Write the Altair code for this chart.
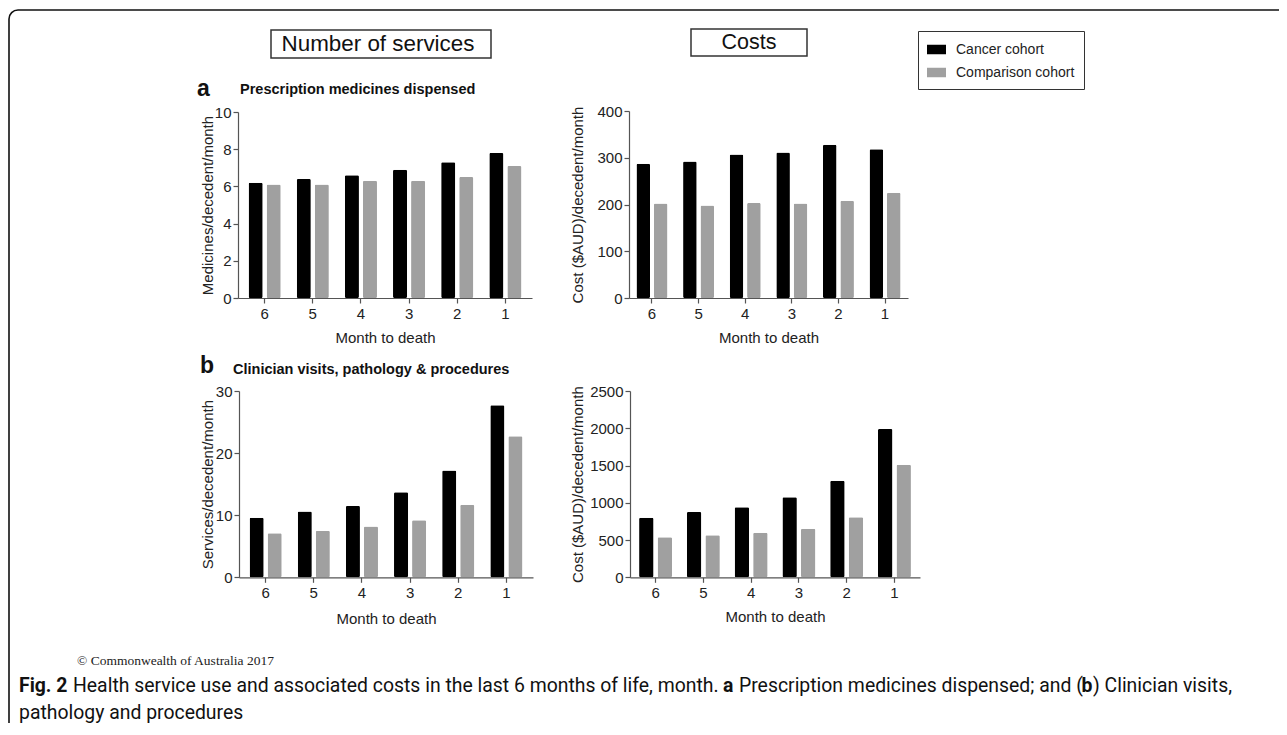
import altair as alt
import pandas as pd

# ---------------- data ----------------
months = ["6", "5", "4", "3", "2", "1"]
cohorts = ["Cancer cohort", "Comparison cohort"]

med_cancer = [6.2, 6.4, 6.6, 6.9, 7.3, 7.8]
med_comp = [6.1, 6.1, 6.3, 6.3, 6.5, 7.1]

medcost_cancer = [287, 292, 307, 311, 328, 318]
medcost_comp = [202, 198, 203, 202, 208, 225]

svc_cancer = [9.6, 10.6, 11.5, 13.7, 17.2, 27.7]
svc_comp = [7.1, 7.5, 8.2, 9.2, 11.7, 22.7]

svccost_cancer = [800, 876, 939, 1073, 1297, 1991]
svccost_comp = [537, 563, 599, 653, 805, 1512]

ticks_med = [0, 2, 4, 6, 8, 10]
ticks_medcost = [0, 100, 200, 300, 400]
ticks_svc = [0, 10, 20, 30]
ticks_svccost = [0, 500, 1000, 1500, 2000, 2500]

header_left = "Number of services"
header_right = "Costs"
title_a = "Prescription medicines dispensed"
title_b = "Clinician visits, pathology & procedures"
ytitle_med = "Medicines/decedent/month"
ytitle_svc = "Services/decedent/month"
ytitle_cost = "Cost ($AUD)/decedent/month"
xtitle = "Month to death"
copyright_text = "© Commonwealth of Australia 2017"
cap_fig = "Fig. 2"
cap_1 = "Health service use and associated costs in the last 6 months of life, month."
cap_a = "a"
cap_2 = "Prescription medicines dispensed; and ("
cap_b = "b"
cap_3 = ") Clinician visits,"
cap_line2 = "pathology and procedures"

W, H = 1271, 715
FONT = "Liberation Sans"
CAPFONT = "Roboto"
CAPSIZE = 19.4
GREY = "#a0a0a0"


def frame(cancer, comp):
    rows = []
    for m, a, b in zip(months, cancer, comp):
        rows.append({"month": m, "cohort": cohorts[0], "value": a})
        rows.append({"month": m, "cohort": cohorts[1], "value": b})
    return pd.DataFrame(rows)


legend = alt.Legend(
    orient="none", legendX=910, legendY=23, title=None,
    symbolType="M-1,-0.5H1V0.5H-1Z", symbolSize=361, symbolStrokeWidth=0,
    symbolOpacity=1, labelFont=FONT, labelFontSize=14, labelColor="#222",
    labelOffset=10, rowPadding=6, padding=9, strokeColor="#333",
)


def panel(df, xrange, yrange, ymax, yvals, ytitle, ytitleX, xtitleY, po, pi):
    return alt.Chart(df).mark_bar(cornerRadius=1.5).encode(
        x=alt.X(
            "month:N", sort=months,
            scale=alt.Scale(range=xrange, paddingInner=pi, paddingOuter=po),
            axis=alt.Axis(
                orient="bottom", offset=yrange[0] - H, title=xtitle,
                titleX=(xrange[0] + xrange[1]) / 2, titleY=xtitleY,
                titleBaseline="middle", labelAngle=0, labelPadding=3,
            ),
        ),
        xOffset=alt.XOffset(
            "cohort:N", sort=cohorts,
            scale=alt.Scale(paddingInner=0.22, paddingOuter=0),
        ),
        y=alt.Y(
            "value:Q",
            scale=alt.Scale(domain=[0, ymax], range=yrange, nice=False, zero=True),
            axis=alt.Axis(
                orient="left", offset=-xrange[0], values=yvals, format="d",
                title=ytitle, titleX=ytitleX, titleY=(yrange[0] + yrange[1]) / 2,
                titleBaseline="middle", titleAlign="center", titleAngle=270,
            ),
        ),
        color=alt.Color(
            "cohort:N", sort=cohorts,
            scale=alt.Scale(domain=cohorts, range=["#000000", GREY]),
            legend=legend,
        ),
    )


one = pd.DataFrame({"d": [0]})


def text(s, x, y, size, weight="normal", font=FONT, align="left", baseline="alphabetic", color="#111"):
    return alt.Chart(one).mark_text(
        font=font, fontSize=size, fontWeight=weight, align=align,
        baseline=baseline, color=color,
    ).encode(x=alt.value(x), y=alt.value(y), text=alt.value(s))


def box(x, y, x2, y2, radius=0, width=1.5, color="#333"):
    return alt.Chart(one).mark_rect(
        fillOpacity=0, stroke=color, strokeWidth=width, cornerRadius=radius,
    ).encode(x=alt.value(x), y=alt.value(y), x2=alt.value(x2), y2=alt.value(y2))


pA1 = panel(frame(med_cancer, med_comp), [230, 524], [290, 104], 10, ticks_med,
            ytitle_med, -31, 39, 0.22, 0.333)
pA2 = panel(frame(medcost_cancer, medcost_comp), [621, 900], [290, 103], 400, ticks_medcost,
            ytitle_cost, -52, 39, 0.16, 0.335)
pB1 = panel(frame(svc_cancer, svc_comp), [231, 525], [569.3, 383], 30, ticks_svc,
            ytitle_svc, -32, 41, 0.22, 0.333)
pB2 = panel(frame(svccost_cancer, svccost_comp), [622, 912], [569.3, 383], 2500, ticks_svccost,
            ytitle_cost, -53, 39.5, 0.19, 0.31)

CAP_Y1, CAP_Y2 = 684, 711
decor = [
    box(1, 2, 1400, 900, radius=9, width=1.6, color="#111"),
    box(263, 22, 483, 50),
    text(header_left, 370, 36, 22.4, align="center", baseline="middle"),
    box(683, 21, 799, 48),
    text(header_right, 741, 35, 21.5, align="center", baseline="middle"),
    text("a", 189, 88, 23, weight="bold"),
    text(title_a, 232, 86, 14.5, weight="bold"),
    text("b", 192, 365, 23, weight="bold"),
    text(title_b, 225, 366, 14.5, weight="bold"),
    text(copyright_text, 69, 657, 13.5, font="Liberation Serif", color="#222"),
    text(cap_fig, 11, CAP_Y1, CAPSIZE, weight="bold", font=CAPFONT),
    text(cap_1, 65, CAP_Y1, CAPSIZE, font=CAPFONT),
    text(cap_a, 715, CAP_Y1, CAPSIZE, weight="bold", font=CAPFONT),
    text(cap_2, 731, CAP_Y1, CAPSIZE, font=CAPFONT),
    text(cap_b, 1073.5, CAP_Y1, CAPSIZE, weight="bold", font=CAPFONT),
    text(cap_3, 1085, CAP_Y1, CAPSIZE, font=CAPFONT),
    text(cap_line2, 11, CAP_Y2, CAPSIZE, font=CAPFONT),
]

chart = alt.layer(pA1, pA2, pB1, pB2, *decor).resolve_scale(
    x="independent", y="independent", xOffset="independent", color="shared"
).resolve_axis(
    x="independent", y="independent"
).properties(
    width=W, height=H, padding=0,
    autosize=alt.AutoSizeParams(type="none"),
).configure_view(stroke=None).configure_axis(
    labelFont=FONT, labelFontSize=15, labelColor="#222",
    titleFont=FONT, titleFontSize=15, titleFontWeight="normal", titleColor="#222",
    domainColor="#555", tickColor="#555", domainWidth=1.2, tickWidth=1.2,
    tickSize=5, labelPadding=2, grid=False,
)

chart.save("out.html", embed_options={"renderer": "svg", "actions": False})
